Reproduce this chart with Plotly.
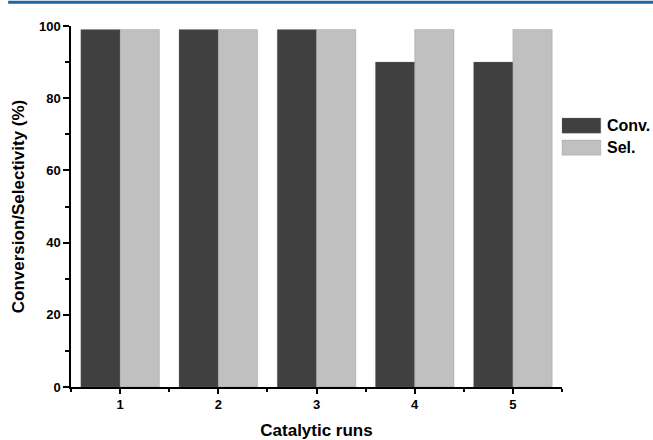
import plotly.graph_objects as go

runs = [1, 2, 3, 4, 5]
run_labels = ["1", "2", "3", "4", "5"]
conversion = [99, 99, 99, 90, 90]
selectivity = [99, 99, 99, 99, 99]
series_names = ["Conv.", "Sel."]
series_colors = ["#404040", "#c0c0c0"]

FONT = "Liberation Sans, Arial, sans-serif"

fig = go.Figure()
for name, vals, col in zip(series_names, [conversion, selectivity], series_colors):
    fig.add_trace(go.Bar(
        x=runs, y=vals, name=name, showlegend=False,
        marker=dict(color=col, line=dict(color="rgba(120,120,120,0.6)", width=0.5)),
    ))

fig.update_layout(
    width=653, height=440,
    barmode="group", bargap=0.2, bargroupgap=0,
    plot_bgcolor="white", paper_bgcolor="white",
    margin=dict(l=71, r=91, t=26, b=53, autoexpand=False),
    font=dict(family=FONT, color="black"),
    xaxis=dict(
        range=[0.5, 5.5], tickmode="array", tickvals=runs, ticktext=run_labels,
        showline=True, linecolor="black", linewidth=1.5, mirror=False,
        ticks="outside", ticklen=5, tickwidth=1.5, tickcolor="black",
        minor=dict(tickmode="linear", tick0=0.5, dtick=1, ticks="outside", ticklen=3, tickwidth=1.5, tickcolor="black"),
        showgrid=False, zeroline=False, automargin=False,
        tickfont=dict(size=13, family=FONT, weight="bold"),
        title=dict(text="<b>Catalytic runs</b>", font=dict(size=17, family=FONT), standoff=15),
    ),
    yaxis=dict(
        range=[0, 100], tickmode="linear", tick0=0, dtick=20,
        showline=True, linecolor="black", linewidth=1.5,
        ticks="outside", ticklen=6, tickwidth=1.5, tickcolor="black",
        minor=dict(tickmode="linear", tick0=0, dtick=10, ticks="outside", ticklen=4, tickwidth=1.5, tickcolor="black"),
        showgrid=False, zeroline=False, automargin=False,
        tickfont=dict(size=13, family=FONT, weight="bold"),
        title=dict(text="<b>Conversion/Selectivity (%)</b>", font=dict(size=17, family=FONT), standoff=10),
    ),
)

# top header rule
fig.add_shape(type="line", xref="paper", yref="paper", x0=-0.128, x1=1.19, y0=1.066, y1=1.066,
              line=dict(color="#1f65a6", width=3))

# custom legend (large swatches)
leg_y = [0.724, 0.663]
for name, col, yy in zip(series_names, series_colors, leg_y):
    fig.add_shape(type="rect", xref="paper", yref="paper", x0=1.0, x1=1.079,
                  y0=yy - 0.021, y1=yy + 0.021, fillcolor=col,
                  line=dict(color="rgba(120,120,120,0.5)", width=0.5))
    fig.add_annotation(text="<b>" + name + "</b>", xref="paper", yref="paper", x=1.088, y=yy,
                       xanchor="left", yanchor="middle", showarrow=False,
                       font=dict(size=16, family=FONT, color="black"))

fig.write_html("out.html", config={"displayModeBar": False},
               post_script="document.body.style.margin='0';document.body.style.overflow='hidden';")
